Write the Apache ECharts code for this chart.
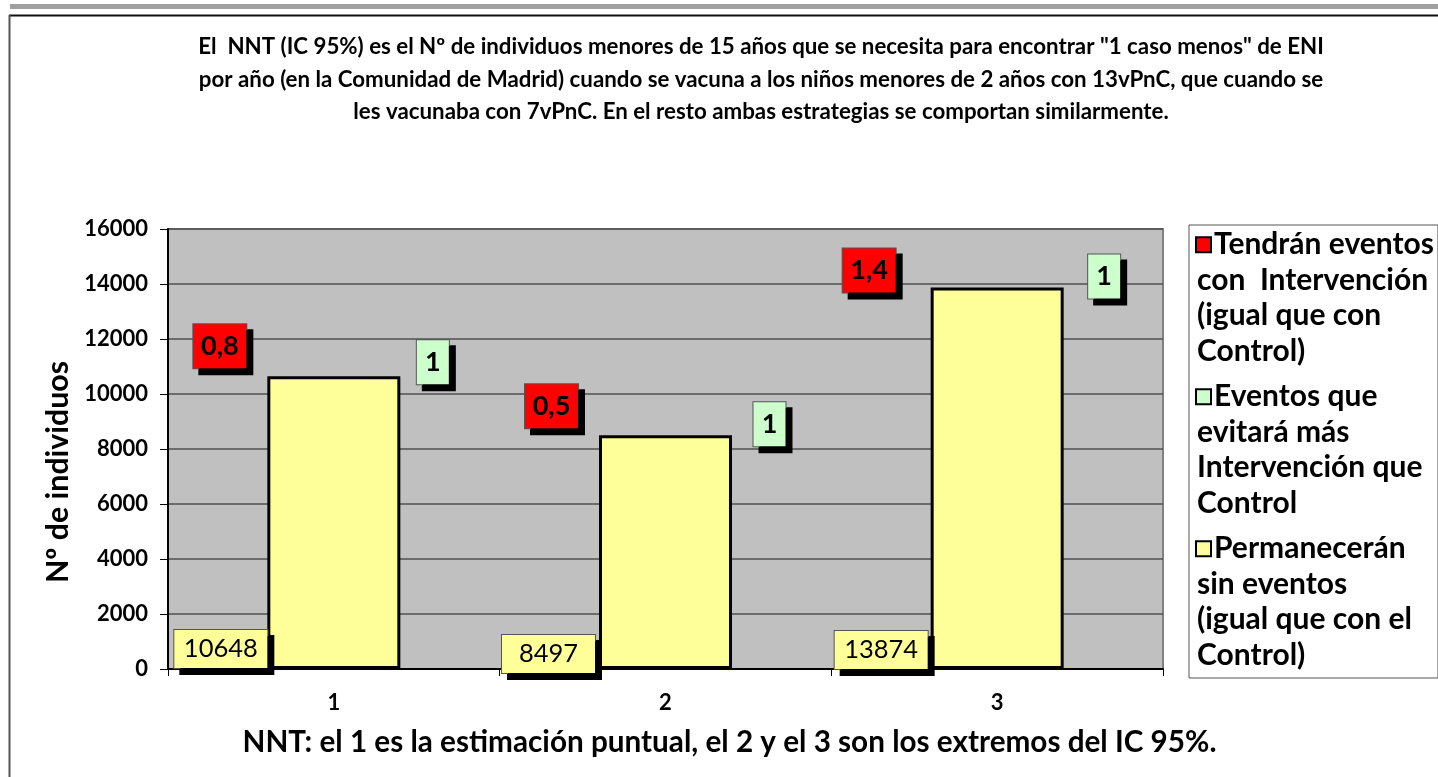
<!DOCTYPE html>
<html>
<head>
<meta charset="utf-8">
<script src="https://cdn.jsdelivr.net/npm/echarts@6/dist/echarts.min.js"></script>
<style>
html,body{margin:0;padding:0;background:#fff;}
#c{width:1438px;height:777px;}
</style>
</head>
<body>
<div id="c"></div>
<script>
// ---- data ----
const categories = ['1', '2', '3'];
const sinEventos = [10648, 8497, 13874];   // Permanecerán sin eventos
const evitara = [1, 1, 1];                 // Eventos que evitará más Intervención que Control
const tendran = [0.8, 0.5, 1.4];           // Tendrán eventos con Intervención
const yMin = 0, yMax = 16000, yInterval = 2000;

const seriesNames = [
  'Tendrán eventos con Intervención (igual que con Control)',
  'Eventos que evitará más Intervención que Control',
  'Permanecerán sin eventos (igual que con el Control)'
];
const legendLines = {};
legendLines[seriesNames[0]] = ['Tendrán eventos', 'con  Intervención', '(igual que con', 'Control)'];
legendLines[seriesNames[1]] = ['Eventos que', 'evitará más', 'Intervención que', 'Control'];
legendLines[seriesNames[2]] = ['Permanecerán', 'sin eventos', '(igual que con el', 'Control)'];
const legendKey = {};
legendKey[seriesNames[0]] = 'r';
legendKey[seriesNames[1]] = 'g';
legendKey[seriesNames[2]] = 'y';

// ---- label placement (layout only) ----
const redShift = [[-114, -8], [-114, -7], [-128, 5]];
const greenShift = [[99, 8], [104, 11], [107, 11]];
const yellowShift = [[-113, -1], [-117, 4], [-116, 0]];

const FONT = 'Lato, "Open Sans", "DejaVu Sans", sans-serif';
const RED = '#FF0000', GREEN = '#CCFFCC', YELLOW = '#FFFF99';

function fmtNum(v) { return String(v).replace('.', ','); }

function boxLabel(bg, w, h, bold, shift) {
  return {
    show: true,
    formatter: p => fmtNum(p.value),
    color: '#000',
    fontFamily: FONT,
    fontSize: bold ? 27 : 25.5,
    fontWeight: bold ? 'bold' : 'normal',
    backgroundColor: bg,
    borderColor: '#555',
    borderWidth: 1,
    width: w,
    height: h,
    lineHeight: h,
    align: 'center',
    padding: 0,
    shadowColor: '#000',
    shadowBlur: 0,
    shadowOffsetX: 6,
    shadowOffsetY: 6,
    offset: shift
  };
}

const yellowData = sinEventos.map((v, i) => ({
  value: v,
  label: Object.assign(boxLabel(YELLOW, 93, 38, false, yellowShift[i]), {position: 'insideBottom', distance: 0})
}));
const greenData = evitara.map((v, i) => ({
  value: v,
  label: Object.assign(boxLabel(GREEN, 32, 44, true, greenShift[i]), {position: 'top', distance: 0})
}));
const redData = tendran.map((v, i) => ({
  value: v,
  label: Object.assign(boxLabel(RED, 53, 44, true, redShift[i]), {position: 'top', distance: 0})
}));

const chart = echarts.init(document.getElementById('c'), null, {renderer: 'canvas'});

const sq = c => ({width: 13, height: 13, backgroundColor: c, borderColor: '#000', borderWidth: 2});

chart.setOption({
  backgroundColor: '#fff',
  animation: false,
  title: {
    text: 'El  NNT (IC 95%) es el Nº de individuos menores de 15 años que se necesita para encontrar "1 caso menos" de ENI\npor año (en la Comunidad de Madrid) cuando se vacuna a los niños menores de 2 años con 13vPnC, que cuando se\nles vacunaba con 7vPnC. En el resto ambas estrategias se comportan similarmente.',
    left: 761,
    top: 31,
    textAlign: 'center',
    padding: 0,
    textStyle: {fontFamily: FONT, fontSize: 22.3, fontWeight: 'bold', color: '#000', lineHeight: 32.5}
  },
  legend: {
    orient: 'vertical',
    left: 1189,
    top: 225,
    data: seriesNames,
    icon: 'none',
    itemWidth: 0,
    itemHeight: 14,
    itemGap: 10,
    padding: [2, 4, 5, 3],
    backgroundColor: '#fff',
    borderColor: '#555',
    borderWidth: 1,
    selectedMode: false,
    formatter: name => '{' + legendKey[name] + '|}{gap| }' + legendLines[name].join('\n'),
    textStyle: {
      fontFamily: FONT, fontSize: 30, fontWeight: 'bold', color: '#000', lineHeight: 35.5,
      rich: {
        r: sq(RED), g: sq(GREEN), y: sq(YELLOW),
        gap: {width: 4, fontSize: 10}
      }
    }
  },
  grid: {
    left: 168, right: 275, top: 229, bottom: 108,
    show: true, backgroundColor: '#C0C0C0', borderColor: '#808080', borderWidth: 2
  },
  xAxis: {
    type: 'category',
    data: categories,
    name: 'NNT: el 1 es la estimación puntual, el 2 y el 3 son los extremos del IC 95%.',
    nameLocation: 'middle',
    nameGap: 58,
    nameTextStyle: {fontFamily: FONT, fontSize: 29.7, fontWeight: 'bold', color: '#000', padding: [0, 0, 0, 128]},
    axisLine: {lineStyle: {color: '#000', width: 2}},
    axisTick: {show: true, alignWithLabel: false, length: 7, lineStyle: {color: '#000', width: 1}},
    axisLabel: {fontFamily: FONT, fontSize: 22, fontWeight: 'bold', color: '#000', margin: 23},
    splitLine: {show: false}
  },
  yAxis: {
    type: 'value',
    min: yMin, max: yMax, interval: yInterval,
    name: 'Nº de individuos',
    nameLocation: 'middle',
    nameRotate: 90,
    nameGap: 89,
    nameTextStyle: {fontFamily: FONT, fontSize: 30.3, fontWeight: 'bold', color: '#000', padding: [0, 46, 0, 0]},
    axisLine: {show: true, lineStyle: {color: '#000', width: 2}},
    axisTick: {show: true, length: 8, lineStyle: {color: '#000', width: 1}},
    axisLabel: {fontFamily: FONT, fontSize: 22, fontWeight: 'bold', color: '#000', margin: 20,
                formatter: v => String(v)},
    splitLine: {show: true, lineStyle: {color: '#505050', width: 1.5}}
  },
  series: [
    {
      name: seriesNames[2], type: 'bar', stack: 'total', barWidth: 133,
      itemStyle: {color: YELLOW, borderColor: '#000', borderWidth: 3},
      data: yellowData, z: 2
    },
    {
      name: seriesNames[1], type: 'bar', stack: 'total', barWidth: 133,
      itemStyle: {color: GREEN, borderColor: '#000', borderWidth: 0},
      data: greenData, z: 3
    },
    {
      name: seriesNames[0], type: 'bar', stack: 'total', barWidth: 133,
      itemStyle: {color: RED, borderColor: '#000', borderWidth: 0},
      data: redData, z: 3
    }
  ],
  graphic: [
    {type: 'rect', shape: {x: 10, y: 4, width: 1428, height: 5}, style: {fill: '#A0A0A0'}, silent: true},
    {type: 'line', shape: {x1: 9, y1: 15.5, x2: 1438, y2: 15.5}, style: {stroke: '#111', lineWidth: 2}, silent: true},
    {type: 'line', shape: {x1: 9.5, y1: 15, x2: 9.5, y2: 777}, style: {stroke: '#555', lineWidth: 2}, silent: true}
  ]
});
</script>
</body>
</html>
